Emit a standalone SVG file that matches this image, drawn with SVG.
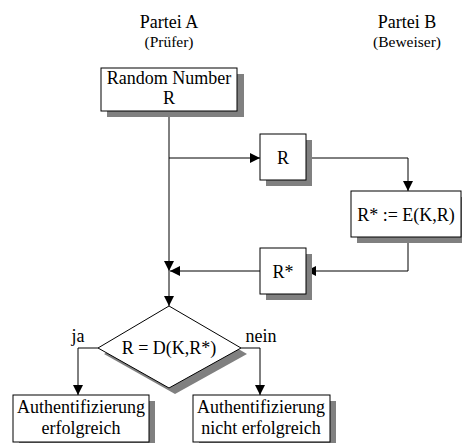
<svg xmlns="http://www.w3.org/2000/svg" width="462" height="443" viewBox="0 0 462 443">
<style>
text{font-family:"Liberation Serif","Times New Roman",serif;fill:#000;text-anchor:middle}
.t{font-size:18px}
.h{font-size:18px}
.s{font-size:15.5px}
.box{fill:#fff;stroke:#000;stroke-width:1}
.sh{fill:#808080}
.ln{fill:none;stroke:#000;stroke-width:1}
</style>
<defs>
<marker id="ah" viewBox="0 0 10 10" refX="10" refY="5" markerWidth="10" markerHeight="10" markerUnits="userSpaceOnUse" orient="auto">
<path d="M0,0 L10,5 L0,10 z" fill="#000"/>
</marker>
</defs>
<rect width="462" height="443" fill="#fff"/>
<g id="header-a"><text class="h" x="169" y="28">Partei A</text><text class="s" x="169" y="47">(Prüfer)</text></g>
<g id="header-b"><text class="h" x="407" y="28">Partei B</text><text class="s" x="407" y="47">(Beweiser)</text></g>
<g id="connectors">
<path class="ln" d="M169,111 V271" marker-end="url(#ah)"/>
<path class="ln" d="M169,271 V306" marker-end="url(#ah)"/>
<path class="ln" d="M169,158 H260" marker-end="url(#ah)"/>
<path class="ln" d="M306,158 H408 V191" marker-end="url(#ah)"/>
<path class="ln" d="M408,237 V271 H306" marker-end="url(#ah)"/>
<path class="ln" d="M260,271 H170" marker-end="url(#ah)"/>
<path class="ln" d="M98,348 H78 V395" marker-end="url(#ah)"/>
<path class="ln" d="M241,348 H260 V395" marker-end="url(#ah)"/>
</g>
<g id="random"><rect class="sh" x="107" y="74" width="137" height="43"/><rect class="box" x="101" y="68" width="136" height="43"/><text class="t" x="169" y="84">Random Number</text><text class="t" x="169" y="104">R</text></g>
<g id="r"><rect class="sh" x="266" y="140" width="46" height="46"/><rect class="box" x="260" y="134" width="46" height="46"/><text class="t" x="283" y="164">R</text></g>
<g id="enc"><rect class="sh" x="357" y="197" width="110" height="46"/><rect class="box" x="351" y="191" width="110" height="46"/><text class="t" x="406" y="221">R* := E(K,R)</text></g>
<g id="rstar"><rect class="sh" x="266" y="254" width="46" height="46"/><rect class="box" x="260" y="248" width="46" height="46"/><text class="t" x="283" y="278">R*</text></g>
<g id="decision"><path class="sh" d="M175,312 L247,354 L175,394 L104,354 z"/><path class="box" d="M169,306 L241,348 L169,388 L98,348 z"/><text class="t" x="169" y="354">R = D(K,R*)</text><text class="t" x="78" y="342">ja</text><text class="t" x="261" y="342">nein</text></g>
<g id="ok"><rect class="sh" x="19" y="401" width="136" height="47"/><rect class="box" x="13" y="395" width="136" height="47"/><text class="t" x="81" y="413">Authentifizierung</text><text class="t" x="81" y="434">erfolgreich</text></g>
<g id="fail"><rect class="sh" x="199" y="401" width="137" height="47"/><rect class="box" x="193" y="395" width="137" height="47"/><text class="t" x="261" y="413">Authentifizierung</text><text class="t" x="261" y="434">nicht erfolgreich</text></g>
</svg>
